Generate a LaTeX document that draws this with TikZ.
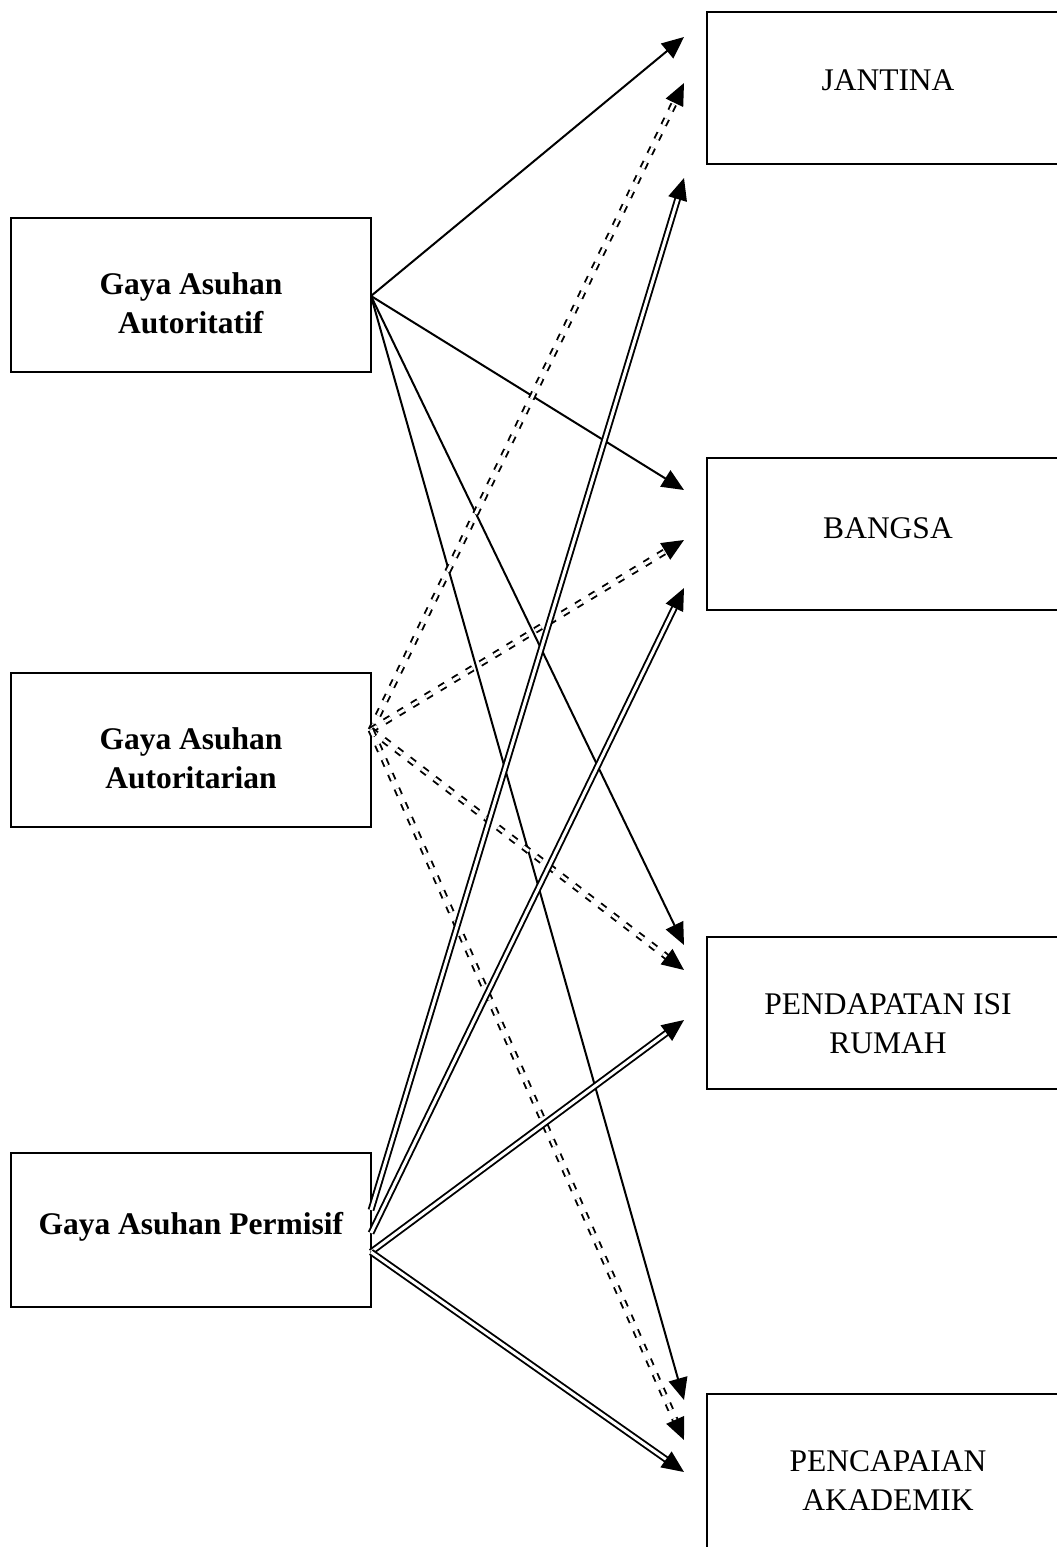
\documentclass[tikz,border=0pt]{standalone}
\usepackage{fontspec}
\setmainfont{Liberation Serif}
\usetikzlibrary{arrows.meta}
\begin{document}
\begin{tikzpicture}[x=1pt,y=-1pt,
  box/.style={draw,line width=1.4pt,minimum width=360pt,minimum height=154pt,inner sep=0pt},
  rbox/.style={draw,line width=1.4pt,minimum width=360pt,minimum height=152pt,inner sep=0pt},
  txt/.style={align=center,font=\fontsize{31.5}{39}\selectfont},
  tip/.style={-{Triangle[length=22pt,width=19pt]}},
  solidarr/.style={tip,line width=2pt},
  dblarr/.style={tip,line width=1.9pt,double,double distance=3pt},
  dasharr/.style={tip,line width=1.9pt,double,double distance=3pt,dash pattern=on 7pt off 9pt}]
\useasboundingbox (0,0) rectangle (1057,1547);
% left boxes
\node[box] (aut) at (191,295) {};
\node[box] (atr) at (191,750) {};
\node[box] (per) at (191,1230) {};
\node[txt] (taut) at (191,303) {\textbf{Gaya Asuhan}\\\textbf{Autoritatif}};
\node[txt] (tatr) at (191,758) {\textbf{Gaya Asuhan}\\\textbf{Autoritarian}};
\node[txt] (tper) at (191,1227) {\textbf{Gaya Asuhan Permisif}};
% right boxes
\node[rbox] (jan) at (887,88) {};
\node[rbox] (ban) at (887,534) {};
\node[rbox] (pen) at (887,1013) {};
\node[rbox,minimum height=154pt] (pac) at (887,1471) {};
\node[txt] (tjan) at (888,80) {JANTINA};
\node[txt] (tban) at (888,528) {BANGSA};
\node[txt] (tpen) at (888,1024) {PENDAPATAN ISI\\RUMAH};
\node[txt] (tpac) at (888,1481) {PENCAPAIAN\\AKADEMIK};
% coordinates
\coordinate (s1) at (371,296);
\coordinate (s2) at (371,730);
\coordinate (s3a) at (371,1210);
\coordinate (s3b) at (371,1233);
\coordinate (s3c) at (371,1252);
\coordinate (j1) at (684,37);
\coordinate (j2) at (684,83);
\coordinate (j3) at (684,178);
\coordinate (b1) at (684,490);
\coordinate (b2) at (684,540);
\coordinate (b3) at (684,588);
\coordinate (p1) at (684,945);
\coordinate (p2) at (684,970);
\coordinate (p3) at (684,1020);
\coordinate (c1) at (684,1400);
\coordinate (c2) at (684,1440);
\coordinate (c3) at (684,1472);
% autoritatif: solid
\draw[solidarr] (s1) -- (j1);
\draw[solidarr] (s1) -- (b1);
\draw[solidarr] (s1) -- (p1);
\draw[solidarr] (s1) -- (c1);
% autoritarian: dashed double
\draw[dasharr] (s2) -- (j2);
\draw[dasharr] (s2) -- (b2);
\draw[dasharr] (s2) -- (p2);
\draw[dasharr] (s2) -- (c2);
% permisif: double
\draw[dblarr] (s3a) -- (j3);
\draw[dblarr] (s3b) -- (b3);
\draw[dblarr] (s3c) -- (p3);
\draw[dblarr] (s3c) -- (c3);
\end{tikzpicture}
\end{document}
